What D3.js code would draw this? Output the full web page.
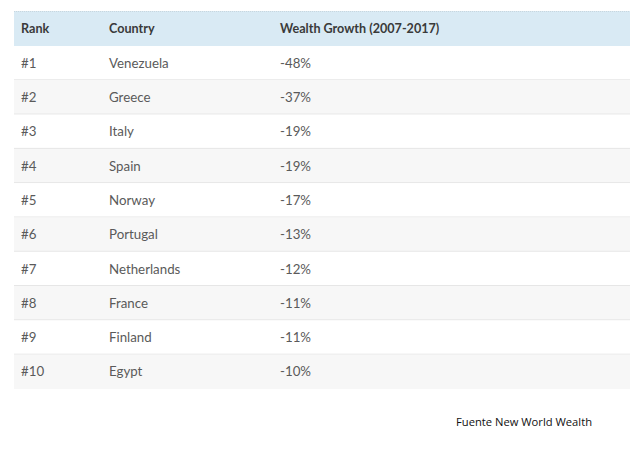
<!DOCTYPE html>
<html><head><meta charset="utf-8">
<script src="https://cdn.jsdelivr.net/npm/d3@7"></script>
<style>html,body{margin:0;padding:0;background:#fff;}</style>
</head><body>
<svg id="c" width="640" height="453"></svg>
<script>
const headers = ["Rank", "Country", "Wealth Growth (2007-2017)"];
const ranks = ["#1","#2","#3","#4","#5","#6","#7","#8","#9","#10"];
const countries = ["Venezuela","Greece","Italy","Spain","Norway","Portugal","Netherlands","France","Finland","Egypt"];
const growth = [-48,-37,-19,-19,-17,-13,-12,-11,-11,-10];
const source = "Fuente New World Wealth";

const svg = d3.select("#c");
const tblLeft = 14, tblRight = 630, tblTop = 11, headH = 35, tblBottom = 389;
const font = "Lato, 'Noto Sans', sans-serif";
const colX = [21, 109, 280];

const y = d3.scaleBand().domain(ranks).range([tblTop + headH, tblBottom]).paddingInner(0).paddingOuter(0);

// header
svg.append("rect").attr("x", tblLeft).attr("y", tblTop).attr("width", tblRight - tblLeft).attr("height", headH).attr("fill", "#d9eaf4");
svg.append("line").attr("x1", tblLeft).attr("x2", tblRight).attr("y1", tblTop + 0.5).attr("y2", tblTop + 0.5)
  .attr("stroke", "#c8d6de").attr("stroke-dasharray", "1,1");
svg.selectAll("text.h").data(headers).join("text").attr("class", "h")
  .attr("x", (d, i) => colX[i]).attr("y", tblTop + headH / 2).attr("dy", "0.35em")
  .attr("font-family", font).attr("font-size", 12.6).attr("font-weight", "bold").attr("fill", "#3a3a3a")
  .text(d => d);

const rows = ranks.map((r, i) => ({ rank: r, country: countries[i], val: growth[i], i }));
const g = svg.selectAll("g.row").data(rows).join("g").attr("class", "row")
  .attr("transform", d => `translate(0,${y(d.rank)})`);
g.append("rect").attr("x", tblLeft).attr("width", tblRight - tblLeft).attr("height", y.bandwidth())
  .attr("fill", d => d.i % 2 === 1 ? "#f7f7f7" : "#ffffff");
g.append("line").attr("x1", tblLeft).attr("x2", tblRight)
  .attr("y1", y.bandwidth() - 0.5).attr("y2", y.bandwidth() - 0.5)
  .attr("stroke", d => d.i === rows.length - 1 ? "none" : "#e4e4e4");
const cells = d => [d.rank, d.country, d3.format("d")(d.val).replace("\u2212", "-") + "%"];
g.selectAll("text").data(d => cells(d)).join("text")
  .attr("x", (d, i) => colX[i]).attr("y", y.bandwidth() / 2).attr("dy", "0.35em")
  .attr("font-family", font).attr("font-size", 13.3).attr("fill", "#5a5a5a")
  .text(d => d);

svg.append("text").attr("x", 592).attr("y", 422).attr("dy", "0.35em").attr("text-anchor", "end")
  .attr("font-family", "'Open Sans', 'Noto Sans', sans-serif").attr("font-size", 11.2).attr("fill", "#111")
  .text(source);
</script>
</body></html>
